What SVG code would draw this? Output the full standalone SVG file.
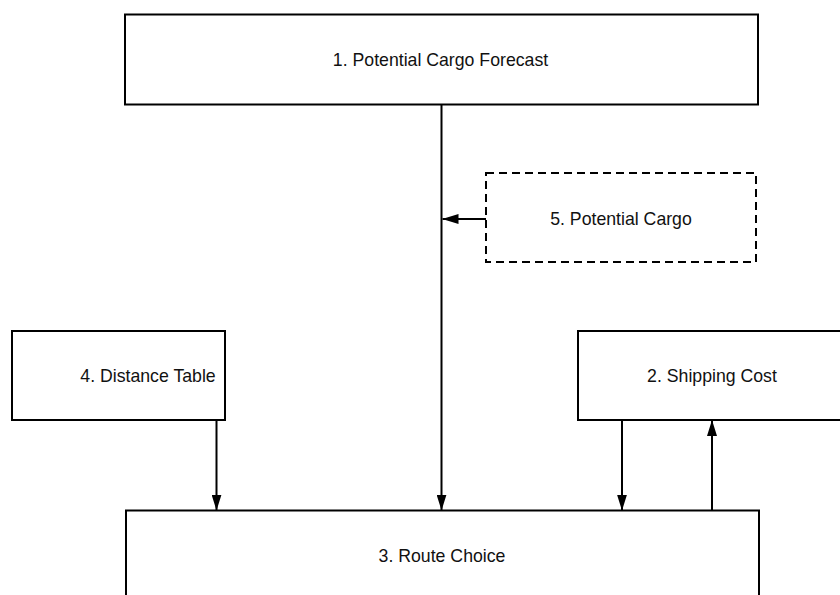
<svg xmlns="http://www.w3.org/2000/svg" width="840" height="595" viewBox="0 0 840 595">
<style>
.box{fill:#fff;stroke:#000;stroke-width:2}
.dash{fill:#fff;stroke:#000;stroke-width:2;stroke-dasharray:8 5}
.lbl{font-family:"Liberation Sans",Arial,sans-serif;font-size:17.7px;fill:#111;text-anchor:middle;dominant-baseline:central}
.conn{stroke:#000;stroke-width:2;fill:none}
</style>
<defs>
<marker id="ah" viewBox="0 0 16 10" refX="16" refY="5" markerWidth="16" markerHeight="10" markerUnits="userSpaceOnUse" orient="auto">
<path d="M0,0 L16,5 L0,10 Z" fill="#000"/>
</marker>
</defs>
<g id="n1"><rect class="box" x="125" y="14.5" width="633" height="90"/><text class="lbl" x="440.5" y="60">1. Potential Cargo Forecast</text></g>
<g id="n5"><rect class="dash" x="486" y="173" width="270" height="89"/><text class="lbl" x="621" y="219">5. Potential Cargo</text></g>
<g id="n4"><rect class="box" x="12" y="331" width="213" height="89"/><text class="lbl" x="148" y="376">4. Distance Table</text></g>
<g id="n2"><rect class="box" x="578" y="331" width="268" height="89"/><text class="lbl" x="712" y="376">2. Shipping Cost</text></g>
<g id="n3"><rect class="box" x="126" y="510.5" width="633" height="95"/><text class="lbl" x="442" y="556">3. Route Choice</text></g>
<g id="connectors">
<line class="conn" x1="441.5" y1="104.5" x2="441.5" y2="510.5" marker-end="url(#ah)"/>
<line class="conn" x1="486" y1="219" x2="442.5" y2="219" marker-end="url(#ah)"/>
<line class="conn" x1="216.5" y1="420" x2="216.5" y2="510.5" marker-end="url(#ah)"/>
<line class="conn" x1="622" y1="420" x2="622" y2="510.5" marker-end="url(#ah)"/>
<line class="conn" x1="712" y1="510.5" x2="712" y2="420" marker-end="url(#ah)"/>
</g>
</svg>
